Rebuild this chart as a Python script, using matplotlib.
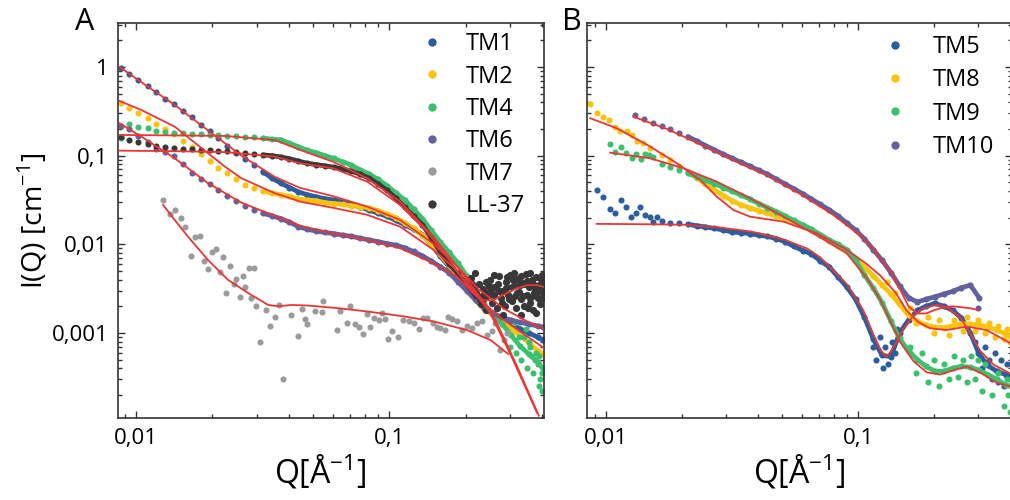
import matplotlib
matplotlib.use('Agg')
import matplotlib.pyplot as plt
from matplotlib.ticker import FixedLocator, LogLocator, FuncFormatter, NullFormatter
from matplotlib.lines import Line2D
import numpy as np

plt.rcParams['font.family'] = ['Open Sans', 'DejaVu Sans']
plt.rcParams['mathtext.fontset'] = 'custom'
plt.rcParams['mathtext.rm'] = 'Open Sans'

# Q grid shared by the dense data series [1/A]
q_grid = [0.0087, 0.0094, 0.0102, 0.0111, 0.012, 0.013, 0.0141, 0.0153, 0.0166, 0.018,
          0.0195, 0.0211, 0.0229, 0.0248, 0.0269, 0.0292, 0.0316, 0.0343, 0.0372, 0.0403,
          0.0437, 0.0473, 0.0513, 0.0556, 0.0603, 0.0653, 0.0708, 0.0767, 0.0832, 0.0902,
          0.0977, 0.106, 0.115, 0.1245, 0.135, 0.146, 0.1585, 0.172, 0.186, 0.202,
          0.219, 0.237, 0.257, 0.279, 0.302, 0.327, 0.355, 0.385, 0.403]

# ---- panel A data, I(Q) [1/cm]
tm1_i = [0.98, 0.83, 0.71, 0.61, 0.52, 0.44, 0.38, 0.32, 0.27, 0.22,
         0.188, 0.158, 0.13, 0.108, 0.091, 0.078, 0.066, 0.056, 0.049, 0.0437,
         0.039, 0.0363, 0.0343, 0.0327, 0.0316, 0.030, 0.0282, 0.0263, 0.0243, 0.0224,
         0.0207, 0.0186, 0.0166, 0.0148, 0.0129, 0.010, 0.0074, 0.0056, 0.0043, 0.0032,
         0.0025, 0.002, 0.00166, 0.0014, 0.00126, 0.00112, 0.001, 0.0009, 0.00083]
tm2_i = [0.39, 0.34, 0.30, 0.265, 0.23, 0.20, 0.174, 0.148, 0.124, 0.1035,
         0.087, 0.073, 0.063, 0.054, 0.047, 0.0427, 0.040, 0.038, 0.0363, 0.0347,
         0.0324, 0.0316, 0.031, 0.0295, 0.0288, 0.0282, 0.0272, 0.0266, 0.0257, 0.024,
         0.0219, 0.020, 0.0174, 0.0151, 0.0126, 0.0102, 0.0078, 0.0058, 0.0043, 0.0032,
         0.00234, 0.00186, 0.00158, 0.00135, 0.00115, 0.00093, 0.00078, 0.00063, 0.00058]
tm4_i = [0.158, 0.23, 0.21, 0.204, 0.19, 0.186, 0.18, 0.178, 0.176, 0.174,
         0.172, 0.17, 0.168, 0.166, 0.164, 0.161, 0.158, 0.153, 0.151, 0.138,
         0.126, 0.115, 0.108, 0.10, 0.093, 0.085, 0.078, 0.069, 0.062, 0.054,
         0.046, 0.038, 0.0316, 0.025, 0.0195, 0.0145, 0.0107, 0.0081, 0.0062, 0.0044,
         0.003, 0.0021, 0.00158, 0.00126, 0.00095, 0.00072, 0.00058, 0.00047, 0.0004]
tm6_i = [0.214, 0.20, 0.166, 0.141, 0.12, 0.11, 0.10, 0.081, 0.063, 0.055,
         0.048, 0.041, 0.0355, 0.031, 0.027, 0.0245, 0.0224, 0.021, 0.0195, 0.0178,
         0.0158, 0.0148, 0.0141, 0.0136, 0.0132, 0.0127, 0.0123, 0.0117, 0.0112, 0.0107,
         0.0102, 0.0098, 0.0091, 0.0083, 0.0074, 0.0065, 0.0056, 0.0048, 0.0038, 0.003,
         0.00234, 0.0019, 0.00166, 0.0015, 0.0014, 0.00132, 0.00126, 0.0012, 0.00117]
ll37_i = [0.162, 0.151, 0.141, 0.135, 0.129, 0.126, 0.1225, 0.12, 0.118, 0.117,
          0.1155, 0.1135, 0.1117, 0.11, 0.107, 0.105, 0.102, 0.10, 0.0966, 0.0923,
          0.087, 0.082, 0.0794, 0.0767, 0.0741, 0.0708, 0.0668, 0.0617, 0.0556, 0.0479,
          0.0407, 0.0331, 0.0263, 0.0209, 0.0166, 0.012, 0.0083, 0.006, 0.0047, 0.00355,
          0.0026, 0.0024, 0.0027, 0.003, 0.0033, 0.00347, 0.0034, 0.0032, 0.003]
ll37_noise_q = [0.21, 0.215, 0.22, 0.225, 0.23, 0.235, 0.24, 0.245, 0.25, 0.255,
                0.26, 0.265, 0.27, 0.275, 0.28, 0.285, 0.29, 0.295, 0.30, 0.305,
                0.31, 0.315, 0.32, 0.325, 0.33, 0.335, 0.34, 0.345, 0.35, 0.355,
                0.36, 0.365, 0.37, 0.375, 0.38, 0.385, 0.39, 0.395, 0.40, 0.405,
                0.24, 0.26, 0.28, 0.31, 0.33, 0.36, 0.38, 0.40,
                0.212, 0.218, 0.228, 0.238, 0.248, 0.258, 0.268, 0.278, 0.288, 0.298,
                0.308, 0.318, 0.328, 0.338, 0.348, 0.358, 0.368, 0.378, 0.388, 0.398,
                0.403, 0.232, 0.252, 0.272, 0.292, 0.312, 0.332, 0.352, 0.372, 0.392]
ll37_noise_i = [0.0042, 0.0033, 0.0028, 0.0036, 0.0021, 0.0031, 0.0018, 0.0027, 0.0040, 0.0022,
                0.0033, 0.0019, 0.0044, 0.0025, 0.0030, 0.0020, 0.0038, 0.0027, 0.0045, 0.0023,
                0.0034, 0.0019, 0.0041, 0.0029, 0.0024, 0.0037, 0.0020, 0.0046, 0.0027, 0.0033,
                0.0022, 0.0040, 0.0018, 0.0030, 0.0043, 0.0025, 0.0035, 0.0021, 0.0038, 0.0028,
                0.0038, 0.0045, 0.0016, 0.0048, 0.0016, 0.0047, 0.0017, 0.0045,
                0.0036, 0.0047, 0.0024, 0.0029, 0.0034, 0.0027, 0.0036, 0.0022, 0.0032, 0.0024,
                0.0040, 0.0028, 0.0035, 0.0026, 0.0039, 0.0025, 0.0036, 0.0026, 0.0030, 0.0033,
                0.0025, 0.0026, 0.0031, 0.0030, 0.0043, 0.0026, 0.0044, 0.0019, 0.0028, 0.0042]
tm4_noise_q = [0.30, 0.31, 0.325, 0.33, 0.34, 0.345, 0.35, 0.355, 0.36, 0.365,
               0.37, 0.375, 0.38, 0.385, 0.39, 0.39, 0.395, 0.40, 0.40, 0.315]
tm4_noise_i = [0.0007, 0.0013, 0.0009, 0.0005, 0.0009, 0.0011, 0.0004, 0.0008, 0.0007, 0.00055,
               0.00035, 0.0005, 0.0006, 0.00045, 0.00025, 0.00055, 0.0003, 0.00022, 0.00035, 0.0006]
tm7_q = [0.01275, 0.01355, 0.0142, 0.0150, 0.0156, 0.0164, 0.0171, 0.0178, 0.0185, 0.0192,
         0.01995, 0.0207, 0.0214, 0.0220, 0.0227, 0.02355, 0.0243, 0.0248, 0.0256, 0.0264,
         0.0270, 0.0278, 0.0291, 0.0285, 0.0298, 0.0309, 0.0324, 0.0337, 0.0352, 0.0366,
         0.0380, 0.0407, 0.0436, 0.0452, 0.0466, 0.0474, 0.0508, 0.0541, 0.0548, 0.0619,
         0.0638, 0.0679, 0.070, 0.0731, 0.076, 0.0789, 0.0815, 0.0839, 0.0871, 0.0906,
         0.0933, 0.0962, 0.0991, 0.1023, 0.1086, 0.1135, 0.12, 0.1245, 0.1303, 0.1355,
         0.1406, 0.1493, 0.1538, 0.1585, 0.166, 0.171, 0.1766, 0.1845, 0.1932, 0.2023,
         0.2118, 0.2213, 0.2317, 0.2427, 0.2541, 0.2618, 0.2742, 0.2825, 0.2924]
tm7_i = [0.0317, 0.0218, 0.0244, 0.0197, 0.0158, 0.0074, 0.0122, 0.0125, 0.00655, 0.00524,
         0.00828, 0.00887, 0.00484, 0.00727, 0.00281, 0.0057, 0.00358, 0.00404, 0.00253, 0.0044,
         0.00334, 0.00538, 0.00538, 0.00247, 0.00202, 0.00079, 0.00182, 0.00121, 0.00153, 0.00207,
         0.000301, 0.0016, 0.000935, 0.00185, 0.00144, 0.00127, 0.00177, 0.00171, 0.0023, 0.00108,
         0.00177, 0.00131, 0.00202, 0.00126, 0.00116, 0.00097, 0.00164, 0.00116, 0.00147, 0.00141,
         0.0017, 0.00143, 0.000857, 0.00104, 0.000912, 0.00141, 0.00137, 0.00131, 0.0011, 0.00149,
         0.00149, 0.00129, 0.00116, 0.00113, 0.00108, 0.00153, 0.00145, 0.00135, 0.00108, 0.0012,
         0.00113, 0.00129, 0.00135, 0.00095, 0.00105, 0.00129, 0.00065, 0.00083, 0.001]

# ---- panel A fits
fit_tm1_q = [0.00859, 0.01045, 0.01419, 0.01919, 0.026, 0.03524, 0.04436, 0.0603, 0.0817, 0.1102,
             0.149, 0.1854, 0.2239, 0.2818, 0.3548, 0.4074]
fit_tm1_i = [1.0, 0.676, 0.372, 0.193, 0.1, 0.0575, 0.0433, 0.0347, 0.0266, 0.0188,
             0.0102, 0.0056, 0.00316, 0.0019, 0.00132, 0.00112]
fit_tm2_q = [0.00859, 0.01047, 0.01419, 0.01919, 0.02239, 0.026, 0.03524, 0.04467, 0.0603, 0.0817,
             0.1102, 0.149, 0.1782, 0.2188, 0.263, 0.3162, 0.389]
fit_tm2_i = [0.414, 0.327, 0.212, 0.1064, 0.0752, 0.0556, 0.0377, 0.0302, 0.0257, 0.0215,
             0.0158, 0.0087, 0.0056, 0.0028, 0.00138, 0.000447, 0.000117]
fit_tm4_q = [0.00859, 0.01413, 0.02239, 0.03524, 0.04436, 0.05984, 0.0817, 0.1102, 0.149, 0.1897,
             0.2427, 0.302, 0.3828]
fit_tm4_i = [0.171, 0.169, 0.1667, 0.150, 0.1159, 0.0855, 0.0556, 0.0303, 0.0122, 0.00513,
             0.002, 0.00056, 0.000126]
fit_tm6_q = [0.00859, 0.01047, 0.01419, 0.01919, 0.026, 0.03524, 0.04436, 0.0603, 0.0817, 0.1102,
             0.149, 0.1845, 0.2239, 0.2667, 0.3311, 0.4083]
fit_tm6_i = [0.232, 0.164, 0.0933, 0.0489, 0.0295, 0.0209, 0.0162, 0.0132, 0.0112, 0.00904,
             0.00612, 0.00433, 0.0025, 0.00158, 0.00102, 0.000676]
fit_tm7_q = [0.01276, 0.01419, 0.016, 0.01919, 0.02301, 0.02767, 0.0332, 0.0363, 0.041, 0.04775,
             0.0631, 0.0815, 0.1122, 0.1493, 0.2023, 0.2512, 0.2944]
fit_tm7_i = [0.0278, 0.0188, 0.0122, 0.00667, 0.00398, 0.00282, 0.00207, 0.002, 0.00207, 0.00204,
             0.0019, 0.00175, 0.00155, 0.00135, 0.00108, 0.00083, 0.00058]
fit_ll37_q = [0.00859, 0.01413, 0.02239, 0.03524, 0.04436, 0.05984, 0.0817, 0.1102, 0.1406, 0.169,
              0.1959, 0.2138, 0.235, 0.257, 0.2818, 0.3162, 0.35, 0.3802, 0.4083]
fit_ll37_i = [0.1138, 0.1122, 0.1096, 0.0975, 0.082, 0.0721, 0.0509, 0.0278, 0.0139, 0.00724,
              0.00398, 0.00282, 0.00234, 0.00234, 0.00269, 0.00316, 0.00347, 0.00347, 0.00331]

# ---- panel B data
N = None
tm5_i = [N] * 8 + [0.0182, 0.0176, 0.0172, 0.0168, 0.0162, 0.0157, 0.0151, 0.0145, 0.0138, 0.0135,
                   0.0132, 0.0127, 0.0123, 0.0116, 0.0107, 0.0095, 0.0085, 0.0078, 0.0065, 0.0056,
                   0.0043, 0.0033, 0.0024, 0.0015, 0.00085, 0.00056, 0.00054, 0.001, 0.0014, 0.0018,
                   0.002, 0.00216, 0.002, 0.0018, 0.00148, 0.001, 0.00058, 0.00043, 0.00037, 0.00034,
                   0.00032]
tm8_i = [N] * 8 + [0.102, 0.089, 0.076, 0.0646, 0.056, 0.048, 0.041, 0.0355, 0.031, 0.0279,
                   0.0257, 0.024, 0.0224, 0.0209, 0.0193, 0.0178, 0.0162, 0.0145, 0.0126, 0.011,
                   0.0095, 0.0083, 0.0068, 0.0055, 0.0044, 0.00347, 0.00275, 0.0021, 0.00158, 0.00135,
                   0.00123, 0.00116, 0.00115, 0.0012, 0.00127, 0.00126, 0.00123, 0.00117, 0.00108, 0.00098,
                   0.00091]
tm9_i = [N] * 8 + [0.0813, 0.075, 0.069, 0.063, 0.058, 0.053, 0.0484, 0.0437, 0.0398, 0.0359,
                   0.0324, 0.0288, 0.026, 0.0234, 0.0209, 0.0186, 0.0166, 0.0148, 0.0129, 0.0112,
                   0.01, 0.0087, 0.0066, 0.0045, 0.0032, 0.0022, 0.00135, 0.00087, 0.00063, 0.0005,
                   0.00042, 0.00037, 0.00037, 0.0004, 0.00042, 0.00041, 0.00038, 0.00034, 0.0003, 0.00026,
                   0.00025]
tm10_i = [N] * 5 + [0.285, 0.257, 0.234, 0.216, 0.20, 0.182, 0.164, 0.146, 0.13, 0.116,
                    0.1035, 0.0933, 0.0841, 0.0759, 0.0684, 0.0617, 0.0543, 0.0479, 0.0422, 0.0372,
                    0.0324, 0.0282, 0.0245, 0.0209, 0.0174, 0.0145, 0.0115, 0.0087, 0.0066, 0.0048,
                    0.0034, 0.0025, 0.00224, 0.0024, 0.00257, 0.00275, 0.00295, 0.00324, 0.00347, 0.0025] + [N] * 4
tm5_low_q = [0.00918, 0.00975, 0.01038, 0.01086, 0.01143, 0.01197, 0.01256, 0.01312, 0.01365, 0.01429,
             0.01496, 0.01542, 0.01589]
tm5_low_i = [0.041, 0.0345, 0.0248, 0.0224, 0.0316, 0.0266, 0.0202, 0.0228, 0.0262, 0.0214,
             0.0205, 0.018, 0.0205]
tm8_low_q = [0.00865, 0.00918, 0.00975, 0.0103, 0.01086, 0.01138, 0.01208, 0.01265, 0.01324, 0.01406,
             0.01496]
tm8_low_i = [0.383, 0.30, 0.271, 0.252, 0.209, 0.19, 0.191, 0.171, 0.148, 0.138, 0.121]
tm9_low_q = [0.01038, 0.01086, 0.01143, 0.012, 0.01265, 0.01315, 0.01374, 0.01429, 0.01486, 0.01542]
tm9_low_i = [0.1355, 0.111, 0.1265, 0.1064, 0.0933, 0.1045, 0.091, 0.1045, 0.102, 0.0975]
tm10_end_q = [0.30]
tm10_end_i = [0.0019]
tm5_noise_q = [0.115, 0.118, 0.122, 0.126, 0.128, 0.132, 0.136, 0.14, 0.143, 0.29,
               0.30, 0.31, 0.32, 0.33, 0.34, 0.35, 0.36, 0.37, 0.38, 0.39, 0.40]
tm5_noise_i = [0.0007, 0.0005, 0.0009, 0.0004, 0.0007, 0.00045, 0.0008, 0.0006, 0.0011, 0.0008,
               0.0006, 0.0004, 0.0007, 0.0005, 0.0003, 0.0006, 0.00028, 0.0005, 0.00025, 0.00045, 0.0003]
tm8_noise_q = [0.13, 0.14, 0.16, 0.17, 0.19, 0.2, 0.21, 0.23, 0.24, 0.26,
               0.27, 0.29, 0.3, 0.32, 0.33, 0.35, 0.36, 0.38, 0.39, 0.40]
tm8_noise_i = [0.0038, 0.0028, 0.0019, 0.0013, 0.0015, 0.001, 0.0014, 0.00095, 0.0014, 0.00105,
               0.0015, 0.00105, 0.0014, 0.001, 0.0013, 0.0009, 0.0012, 0.00085, 0.0011, 0.0008]
tm9_noise_q = [0.16, 0.17, 0.18, 0.19, 0.2, 0.21, 0.22, 0.23, 0.24, 0.25,
               0.26, 0.27, 0.28, 0.29, 0.3, 0.31, 0.32, 0.34, 0.36, 0.38, 0.39, 0.40, 0.395]
tm9_noise_i = [0.0007, 0.00035, 0.0006, 0.00028, 0.0005, 0.00025, 0.00045, 0.0003, 0.00055, 0.00032,
               0.0005, 0.00028, 0.00055, 0.0003, 0.0005, 0.00022, 0.00045, 0.0002, 0.00035, 0.00015,
               0.0003, 0.00013, 0.0002]

# ---- panel B fits
fit_tm5_q = [0.00918, 0.01585, 0.02056, 0.02818, 0.03784, 0.05129, 0.0631, 0.0708, 0.0902, 0.105,
             0.1151, 0.123, 0.13, 0.138, 0.1514, 0.166, 0.1816, 0.2051, 0.2249, 0.2541,
             0.278, 0.3048, 0.3443, 0.4009]
fit_tm5_i = [0.017, 0.0168, 0.0166, 0.0155, 0.0139, 0.0112, 0.0089, 0.0071, 0.00355, 0.00178,
             0.00095, 0.00063, 0.00054, 0.00068, 0.00112, 0.00158, 0.0019, 0.00209, 0.00195, 0.00151,
             0.001, 0.00063, 0.00044, 0.00035]
fit_tm8_q = [0.00865, 0.01102, 0.01496, 0.0191, 0.0236, 0.02748, 0.03199, 0.03724, 0.05058, 0.06855,
             0.0902, 0.1081, 0.1222, 0.1413, 0.156, 0.1738, 0.1932, 0.2249, 0.2698, 0.3236, 0.4009]
fit_tm8_i = [0.264, 0.204, 0.1265, 0.082, 0.0532, 0.0345, 0.0244, 0.0205, 0.018, 0.0133,
             0.0087, 0.006, 0.00447, 0.00282, 0.00178, 0.00132, 0.00113, 0.00108, 0.00118, 0.00108, 0.00077]
fit_tm9_q = [0.01038, 0.01496, 0.02028, 0.02748, 0.03724, 0.05058, 0.06855, 0.0902, 0.1081, 0.1222,
             0.134, 0.1469, 0.166, 0.1871, 0.2113, 0.2399, 0.2698, 0.309, 0.3548, 0.4009]
fit_tm9_i = [0.108, 0.0933, 0.0721, 0.0509, 0.0331, 0.0205, 0.0126, 0.0079, 0.00417, 0.0024,
             0.00138, 0.00079, 0.00048, 0.00036, 0.00034, 0.00038, 0.00042, 0.00035, 0.000275, 0.00025]
fit_tm10_q = [0.01282, 0.01742, 0.0236, 0.03199, 0.04345, 0.05888, 0.0798, 0.1, 0.1148, 0.1349,
              0.1462, 0.1585, 0.1718, 0.1862, 0.2018, 0.2188, 0.2371, 0.257, 0.2786, 0.2985]
fit_tm10_i = [0.275, 0.20, 0.135, 0.0891, 0.0603, 0.0372, 0.0214, 0.0132, 0.0089, 0.0048,
              0.00316, 0.002, 0.00166, 0.00166, 0.00182, 0.00195, 0.002, 0.00195, 0.0019, 0.00182]

BLUE = '#2c5d9c'
YELLOW = '#fcc30d'
GREEN = '#3cc06d'
PURPLE = '#62619e'
GRAY = '#9b9b9b'
DARK = '#383838'
RED = '#ec3535'

fig = plt.figure(figsize=(10.1, 5.0), dpi=100)
axA = fig.add_axes([118 / 1010, 1 - 418 / 500, 426 / 1010, 395 / 500])
axB = fig.add_axes([586.7 / 1010, 1 - 418 / 500, 425.3 / 1010, 395 / 500])


def series(ax, q, i, color, band_from=None, ms=4.4):
    q = np.asarray(q, dtype=float)
    i = np.asarray(i, dtype=float)
    if band_from is not None:
        m = q >= band_from
        ax.plot(q[m], i[m], '-', color=color, lw=3.4, solid_capstyle='round', zorder=2)
    ax.plot(q, i, 'o', color=color, ms=ms, mew=0, zorder=2)


def fit(ax, q, i):
    ax.plot(q, i, '-', color=RED, lw=1.3, zorder=5)


def comma(v, pos):
    return ('%g' % v).replace('.', ',')


# panel A
series(axA, q_grid, tm1_i, BLUE, 0.03)
series(axA, q_grid, tm2_i, YELLOW, 0.03)
series(axA, q_grid, tm4_i, GREEN, 0.03)
series(axA, tm4_noise_q, tm4_noise_i, GREEN)
series(axA, q_grid, tm6_i, PURPLE, 0.03)
series(axA, tm7_q, tm7_i, GRAY)
series(axA, q_grid, ll37_i, DARK, 0.03)
series(axA, ll37_noise_q, ll37_noise_i, DARK, ms=5.2)
for fq, fi in [(fit_tm1_q, fit_tm1_i), (fit_tm2_q, fit_tm2_i), (fit_tm4_q, fit_tm4_i),
               (fit_tm6_q, fit_tm6_i), (fit_tm7_q, fit_tm7_i), (fit_ll37_q, fit_ll37_i)]:
    fit(axA, fq, fi)

# panel B
series(axB, q_grid, tm5_i, BLUE, 0.02)
series(axB, tm5_low_q, tm5_low_i, BLUE)
series(axB, tm5_noise_q, tm5_noise_i, BLUE)
series(axB, q_grid, tm8_i, YELLOW, 0.02)
series(axB, tm8_low_q, tm8_low_i, YELLOW)
series(axB, tm8_noise_q, tm8_noise_i, YELLOW)
series(axB, q_grid, tm9_i, GREEN, 0.02)
series(axB, tm9_low_q, tm9_low_i, GREEN)
series(axB, tm9_noise_q, tm9_noise_i, GREEN)
series(axB, q_grid, tm10_i, PURPLE, 0.02)
series(axB, tm10_end_q, tm10_end_i, PURPLE)
for fq, fi in [(fit_tm5_q, fit_tm5_i), (fit_tm8_q, fit_tm8_i),
               (fit_tm9_q, fit_tm9_i), (fit_tm10_q, fit_tm10_i)]:
    fit(axB, fq, fi)

for ax in (axA, axB):
    ax.set_xscale('log')
    ax.set_yscale('log')
    ax.set_ylim(1.1e-4, 3.13)
    ax.xaxis.set_major_locator(FixedLocator([1e-3, 1e-2, 1e-1, 1]))
    ax.xaxis.set_minor_locator(LogLocator(base=10, subs=np.arange(2, 10) * 1.0, numticks=20))
    ax.yaxis.set_major_locator(FixedLocator([1e-4, 1e-3, 1e-2, 1e-1, 1, 10]))
    ax.yaxis.set_minor_locator(LogLocator(base=10, subs=np.arange(2, 10) * 1.0, numticks=20))
    ax.xaxis.set_major_formatter(FuncFormatter(comma))
    ax.xaxis.set_minor_formatter(NullFormatter())
    ax.yaxis.set_major_formatter(FuncFormatter(comma))
    ax.yaxis.set_minor_formatter(NullFormatter())
    ax.tick_params(which='both', direction='in', top=True, right=True, color='#333333', width=1.0)
    ax.tick_params(which='major', length=5, labelsize=16, pad=7)
    ax.tick_params(which='minor', length=2.8)
    for s in ax.spines.values():
        s.set_color('#333333')
        s.set_linewidth(1.2)
    ax.set_xlabel(r'Q[Å$^{\mathregular{-1}}$]', fontsize=23)

axA.set_xlim(0.00847, 0.408)
axB.set_xlim(0.00838, 0.408)
axB.tick_params(labelleft=False)
axA.set_ylabel(r'I(Q) [cm$^{\mathregular{-1}}$]', fontsize=20.5)
axA.yaxis.set_label_coords(-0.16, 0.5)
axA.xaxis.set_label_coords(0.474, -0.088)
axB.xaxis.set_label_coords(0.50, -0.088)

labelsA = ['TM1', 'TM2', 'TM4', 'TM6', 'TM7', 'LL-37']
colorsA = [BLUE, YELLOW, GREEN, PURPLE, GRAY, DARK]
labelsB = ['TM5', 'TM8', 'TM9', 'TM10']
colorsB = [BLUE, YELLOW, GREEN, PURPLE]


def handles(colors):
    return [Line2D([], [], ls='none', marker='o', ms=6, mew=0, color=c) for c in colors]


axA.legend(handles(colorsA), labelsA, loc='upper left', bbox_to_anchor=(0.709, 0.976),
           frameon=False, fontsize=17, handlelength=1.0, handletextpad=0.94,
           labelspacing=0.35, borderpad=0, borderaxespad=0)
axB.legend(handles(colorsB), labelsB, loc='upper left', bbox_to_anchor=(0.697, 0.969),
           frameon=False, fontsize=17, handlelength=1.0, handletextpad=1.11,
           labelspacing=0.39, borderpad=0, borderaxespad=0)

fig.text(85 / 1010, 1 - 22 / 500, 'A', fontsize=22, ha='center', va='center')
fig.text(572 / 1010, 1 - 22 / 500, 'B', fontsize=22, ha='center', va='center')

fig.savefig('out.png', dpi=100)
